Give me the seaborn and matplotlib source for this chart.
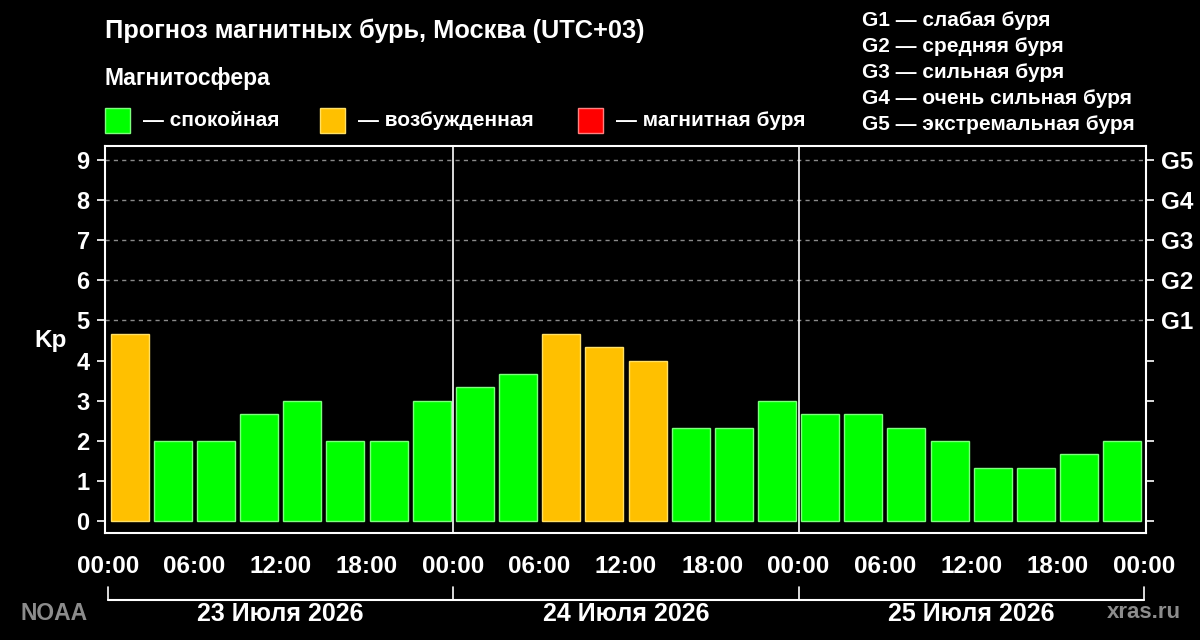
import matplotlib
matplotlib.use("Agg")
import matplotlib.pyplot as plt
import seaborn as sns
import pandas as pd
from matplotlib.patches import Rectangle
from matplotlib.lines import Line2D

# ---- data ----
kp = [4.67, 2.0, 2.0, 2.67, 3.0, 2.0, 2.0, 3.0,
      3.33, 3.67, 4.67, 4.33, 4.0, 2.33, 2.33, 3.0,
      2.67, 2.67, 2.33, 2.0, 1.33, 1.33, 1.67, 2.0]
status = ["возбужденная", "спокойная", "спокойная", "спокойная", "спокойная", "спокойная", "спокойная", "спокойная",
          "спокойная", "спокойная", "возбужденная", "возбужденная", "возбужденная", "спокойная", "спокойная", "спокойная",
          "спокойная", "спокойная", "спокойная", "спокойная", "спокойная", "спокойная", "спокойная", "спокойная"]
time_labels = ["00:00", "06:00", "12:00", "18:00"] * 3 + ["00:00"]
day_labels = ["23 Июля 2026", "24 Июля 2026", "25 Июля 2026"]
y_labels = ["0", "1", "2", "3", "4", "5", "6", "7", "8", "9"]
g_labels = ["G1", "G2", "G3", "G4", "G5"]
g_desc = ["G1 — слабая буря", "G2 — средняя буря", "G3 — сильная буря",
          "G4 — очень сильная буря", "G5 — экстремальная буря"]
legend_names = ["спокойная", "возбужденная", "магнитная буря"]
legend_colors = ["#00ff00", "#ffc000", "#ff0000"]
edge_colors = {"спокойная": "#7dff7d", "возбужденная": "#ffe066", "магнитная буря": "#ff8080"}

df = pd.DataFrame({"slot": list(range(len(kp))), "kp": kp, "status": status})

sns.set_theme(style="dark")
plt.rcParams["font.family"] = ["Liberation Sans", "DejaVu Sans"]
plt.rcParams["font.weight"] = "bold"

fig = plt.figure(figsize=(12, 6.4), dpi=100, facecolor="black")
ax = fig.add_axes([0.0875, 0.1672, 0.8675, 0.6047])
ax.set_facecolor("black")

sns.barplot(data=df, x="slot", y="kp", hue="status", dodge=False,
            palette=dict(zip(legend_names, legend_colors)), order=list(range(len(kp))),
            width=0.88, legend=False, ax=ax, linewidth=1.0, saturation=1)
# lighter edges per bar
for bar in ax.patches:
    fc = matplotlib.colors.to_hex(bar.get_facecolor())
    for name, col in zip(legend_names, legend_colors):
        if fc.lower() == col:
            bar.set_edgecolor(edge_colors[name])

ax.set_xlim(-0.57, 23.55)
ax.set_ylim(-0.3, 9.35)

# grid lines at G levels
for yv in range(5, 10):
    ax.axhline(yv, color="#8a8a8a", lw=1.0, ls=(0, (3, 3)), zorder=0)
# day separators
for xv in [7.5, 15.5]:
    ax.axvline(xv, color="white", lw=1.2, zorder=3)

for sp in ax.spines.values():
    sp.set_color("white")
    sp.set_linewidth(1.5)
    sp.set_visible(True)

ax.set_yticks(range(10))
ax.set_yticklabels(y_labels)
major_x = [-0.5 + 2 * k for k in range(13)]
minor_x = [0.5 + 2 * k for k in range(12)]
ax.set_xticks(major_x)
ax.set_xticklabels(time_labels)
ax.set_xticks(minor_x, minor=True)
ax.tick_params(axis="x", which="major", length=13, width=1.2, color="white",
               labelcolor="white", labelsize=17.5, pad=3, direction="out")
ax.tick_params(axis="x", which="minor", length=6, width=1.2, color="white", direction="out")
ax.tick_params(axis="y", which="major", length=6, width=1.2, color="white",
               labelcolor="white", labelsize=17, pad=5, direction="out")
ax.set_xlabel("")
ax.set_ylabel("")
ax.grid(False)
fig.text(51 / 1200, 1 - 341 / 640, "Kp", color="white", fontsize=17.5,
         fontweight="bold", ha="center", va="center")

# right axis with G levels
ax2 = ax.twinx()
ax2.set_ylim(ax.get_ylim())
ax2.set_yticks(range(10))
ax2.set_yticklabels([""] * 5 + g_labels)
ax2.tick_params(axis="y", length=6, width=1.2, color="white", labelcolor="white",
                labelsize=17.5, pad=5)
for sp in ax2.spines.values():
    sp.set_visible(False)
ax2.grid(False)

# bracket under x axis
trans = ax.get_xaxis_transform()
ax.add_line(Line2D([-0.5, 23.5], [-0.173, -0.173], transform=trans, color="white",
                   lw=1.5, clip_on=False))
for xv in [-0.5, 7.5, 15.5, 23.5]:
    ax.add_line(Line2D([xv, xv], [-0.173, -0.140], transform=trans, color="white",
                       lw=1.2, clip_on=False))
for i, lab in enumerate(day_labels):
    ax.text(3.5 + 8 * i, -0.210, lab, transform=trans, ha="center", va="center",
            color="white", fontsize=18, fontweight="bold")

# texts at top
fig.text(105 / 1200, 1 - 31 / 640, "Прогноз магнитных бурь, Москва (UTC+03)",
         color="white", fontsize=18.3, fontweight="bold", ha="left", va="center")
fig.text(105 / 1200, 1 - 78 / 640, "Магнитосфера", color="white", fontsize=16.5,
         fontweight="bold", ha="left", va="center")
sq_x = [105, 320, 578]
for x0, name, col in zip(sq_x, legend_names, legend_colors):
    fig.patches.append(Rectangle((x0 / 1200, 1 - 133 / 640), 25 / 1200, 25 / 640,
                                 transform=fig.transFigure, facecolor=col,
                                 edgecolor=edge_colors[name], lw=1))
    fig.text((x0 + 38) / 1200, 1 - 120 / 640, "— " + name, color="white", fontsize=15,
             fontweight="bold", ha="left", va="center")
for i, t in enumerate(g_desc):
    fig.text(862 / 1200, 1 - (21 + 26 * i) / 640, t, color="white", fontsize=15,
             fontweight="bold", ha="left", va="center")

fig.text(20 / 1200, 1 - 613 / 640, "NOAA", color="#8c8c8c", fontsize=16.5,
         fontweight="bold", ha="left", va="center")
fig.text(1181 / 1200, 1 - 613 / 640, "xras.ru", color="#8c8c8c", fontsize=16,
         fontweight="bold", ha="right", va="center")

fig.savefig("out.png", dpi=100, facecolor="black")
